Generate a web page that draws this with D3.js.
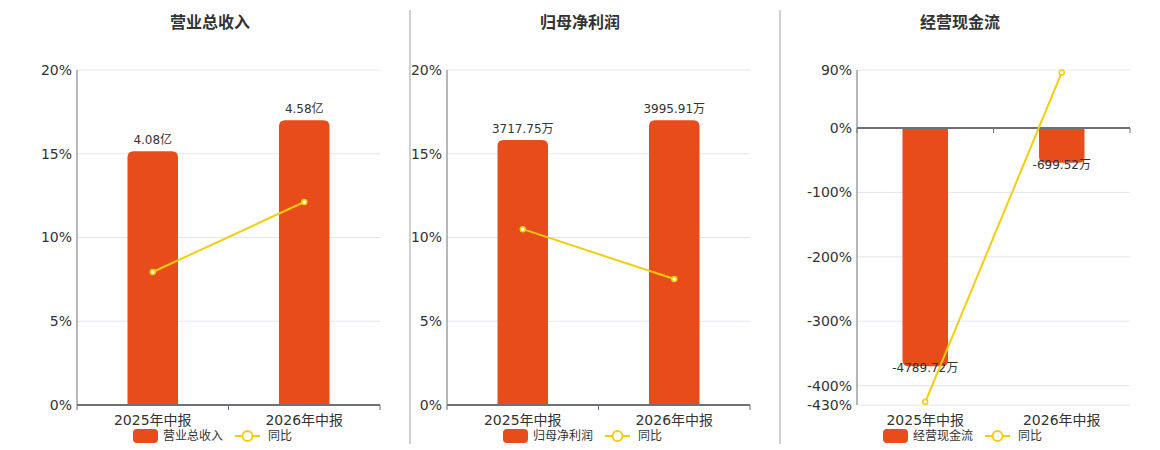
<!DOCTYPE html>
<html lang="zh">
<head>
<meta charset="utf-8">
<title>营业总收入 / 归母净利润 / 经营现金流</title>
<script src="https://d3js.org/d3.v7.min.js"></script>
<style>
  body { margin: 0; background: #fff; }
  text { font-family: "DejaVu Sans", "Noto Sans CJK SC", sans-serif; fill: #333; }
</style>
</head>
<body>
<div id="chart"></div>
<script>
// categories shared by all three panels
var periods = ["2025年中报", "2026年中报"];

// panel titles
var titles = ["营业总收入", "归母净利润", "经营现金流"];

// bar values (raw) and their labels
var revenue = [4.08, 4.58];
var revenueLabels = ["4.08亿", "4.58亿"];
var netProfit = [3717.75, 3995.91];
var netProfitLabels = ["3717.75万", "3995.91万"];
var cashFlow = [-4789.72, -699.52];
var cashFlowLabels = ["-4789.72万", "-699.52万"];

// year-on-year growth (%)
var revenueYoy = [7.94, 12.12];
var netProfitYoy = [10.5, 7.52];
var cashFlowYoy = [-425.4, 86.2];

// percent axis ticks
var ticksA = [0, 5, 10, 15, 20];
var ticksB = [0, 5, 10, 15, 20];
var ticksC = [-430, -400, -300, -200, -100, 0, 90];

var W = 1160, H = 450;
var barColor = "#e84c1b", lineColor = "#f5cd0c";

var svg = d3.select("#chart").append("svg")
    .attr("width", W)
    .attr("height", H);

var panels = [
  { title: titles[0], bars: revenue, labels: revenueLabels, yoy: revenueYoy, ticks: ticksA,
    x0: 77, x1: 380, center: 210, legend: "营业总收入" },
  { title: titles[1], bars: netProfit, labels: netProfitLabels, yoy: netProfitYoy, ticks: ticksB,
    x0: 447, x1: 750, center: 580, legend: "归母净利润" },
  { title: titles[2], bars: cashFlow, labels: cashFlowLabels, yoy: cashFlowYoy, ticks: ticksC,
    x0: 857, x1: 1130, center: 960, legend: "经营现金流" }
];

// separators between panels
[410, 780].forEach(function(x) {
  svg.append("line")
    .attr("x1", x).attr("x2", x)
    .attr("y1", 10).attr("y2", 444)
    .attr("stroke", "#a0a0a0").attr("stroke-width", 1);
});

// rounded-end bar path (rounded at the end away from zero)
function barPath(x, w, yZero, yEnd, r) {
  var h = Math.abs(yEnd - yZero);
  r = Math.min(r, h, w / 2);
  var s = yEnd <= yZero ? 1 : -1;
  return "M" + x + "," + yZero +
    "V" + (yEnd + s * r) +
    "Q" + x + "," + yEnd + " " + (x + r) + "," + yEnd +
    "H" + (x + w - r) +
    "Q" + (x + w) + "," + yEnd + " " + (x + w) + "," + (yEnd + s * r) +
    "V" + yZero + "Z";
}

var plotTop = 70, plotBottom = 405;

panels.forEach(function(p) {
  var g = svg.append("g");

  // title
  g.append("text")
    .attr("x", p.center).attr("y", 28)
    .attr("text-anchor", "middle")
    .style("font-size", "16px")
    .style("font-weight", "bold")
    .text(p.title);

  var x = d3.scaleBand().domain(periods).range([p.x0, p.x1]);
  var yMin = d3.min(p.ticks), yMax = d3.max(p.ticks);
  var y = d3.scaleLinear().domain([yMin, yMax]).range([plotBottom, plotTop]);
  var yZero = y(0);

  // hidden bar axis: zero aligned with the percent axis, largest bar fills ~85%
  var bMax = d3.max(p.bars), bMin = d3.min(p.bars);
  var yb;
  if (bMin >= 0) {
    yb = d3.scaleLinear().domain([0, bMax / 0.85]).range([yZero, plotTop]);
  } else {
    yb = d3.scaleLinear().domain([bMin / 0.86, 0]).range([plotBottom, yZero]);
  }

  // grid lines
  g.selectAll(".grid").data(p.ticks).enter().append("line")
    .attr("x1", p.x0).attr("x2", p.x1)
    .attr("y1", function(d) { return y(d); })
    .attr("y2", function(d) { return y(d); })
    .attr("stroke", "#e3e6ef").attr("stroke-width", 1);

  // y axis tick labels
  g.selectAll(".ylab").data(p.ticks).enter().append("text")
    .attr("x", p.x0 - 5)
    .attr("y", function(d) { return y(d); })
    .attr("dy", "0.35em")
    .attr("text-anchor", "end")
    .style("font-size", "14px")
    .text(function(d) { return d + "%"; });

  // left axis line
  g.append("line")
    .attr("x1", p.x0).attr("x2", p.x0)
    .attr("y1", plotTop).attr("y2", plotBottom)
    .attr("stroke", "#6e7079").attr("stroke-width", 1);

  // bars
  var bw = x.bandwidth() / 3;
  g.selectAll(".bar").data(p.bars).enter().append("path")
    .attr("d", function(d, i) {
      var bx = x(periods[i]) + x.bandwidth() / 2 - bw / 2;
      return barPath(bx, bw, yZero, yb(d), 6);
    })
    .attr("fill", barColor);

  // bar labels
  g.selectAll(".blab").data(p.bars).enter().append("text")
    .attr("x", function(d, i) { return x(periods[i]) + x.bandwidth() / 2; })
    .attr("y", function(d) { return d >= 0 ? yb(d) - 7 : yb(d) + 6; })
    .attr("text-anchor", "middle")
    .style("font-size", "12px")
    .text(function(d, i) { return p.labels[i]; });

  // x axis (at zero)
  g.append("line")
    .attr("x1", p.x0).attr("x2", p.x1)
    .attr("y1", yZero).attr("y2", yZero)
    .attr("stroke", "#6e7079").attr("stroke-width", 2);
  var bounds = [p.x0, p.x0 + x.bandwidth(), p.x1];
  g.selectAll(".xtick").data(bounds).enter().append("line")
    .attr("x1", function(d) { return d; })
    .attr("x2", function(d) { return d; })
    .attr("y1", yZero).attr("y2", yZero + 5)
    .attr("stroke", "#6e7079").attr("stroke-width", 1);

  // x labels
  g.selectAll(".xlab").data(periods).enter().append("text")
    .attr("x", function(d) { return x(d) + x.bandwidth() / 2; })
    .attr("y", 425)
    .attr("text-anchor", "middle")
    .style("font-size", "14px")
    .text(function(d) { return d; });

  // yoy line
  var line = d3.line()
    .x(function(d, i) { return x(periods[i]) + x.bandwidth() / 2; })
    .y(function(d) { return y(d); });
  g.append("path")
    .datum(p.yoy)
    .attr("d", line)
    .attr("fill", "none")
    .attr("stroke", lineColor)
    .attr("stroke-width", 2);
  g.selectAll(".pt").data(p.yoy).enter().append("circle")
    .attr("cx", function(d, i) { return x(periods[i]) + x.bandwidth() / 2; })
    .attr("cy", function(d) { return y(d); })
    .attr("r", 2.5)
    .attr("fill", "#fff")
    .attr("stroke", lineColor)
    .attr("stroke-width", 1.5);

  // legend
  var lx = p.center - 77;
  var lg = g.append("g").attr("transform", "translate(" + lx + ",436)");
  lg.append("rect")
    .attr("x", 0).attr("y", -7)
    .attr("width", 25).attr("height", 14)
    .attr("rx", 4)
    .attr("fill", barColor);
  lg.append("text")
    .attr("x", 30).attr("y", 0)
    .attr("dy", "0.35em")
    .style("font-size", "12px")
    .text(p.legend);
  lg.append("line")
    .attr("x1", 102).attr("x2", 127)
    .attr("y1", 0).attr("y2", 0)
    .attr("stroke", lineColor).attr("stroke-width", 2);
  lg.append("circle")
    .attr("cx", 114.5).attr("cy", 0).attr("r", 5)
    .attr("fill", "#fff")
    .attr("stroke", lineColor).attr("stroke-width", 2);
  lg.append("text")
    .attr("x", 135).attr("y", 0)
    .attr("dy", "0.35em")
    .style("font-size", "12px")
    .text("同比");
});
</script>
</body>
</html>
